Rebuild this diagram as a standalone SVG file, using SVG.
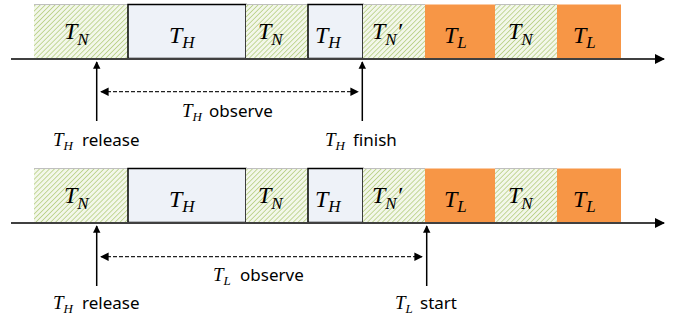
<svg xmlns="http://www.w3.org/2000/svg" width="681" height="322" viewBox="0 0 681 322">
<style>
.m{font-family:"Liberation Serif","DejaVu Serif",serif;font-style:italic;fill:#000}
.big{font-size:24px}
.sub{font-size:17px}
.lm{font-size:19px}
.ls{font-size:13px}
.lbl{font-family:"Noto Sans","Open Sans",sans-serif;font-size:17px;fill:#000}
.hn{fill:url(#hatch)}
.th{fill:#EEF2F8;stroke:#000;stroke-width:1.5}
.tl{fill:#F79646}
.edge{stroke:#BFBFBF;stroke-width:1}
.axis{stroke:#404040;stroke-width:2;fill:none}
.up{stroke:#000;stroke-width:1.5;fill:none;marker-end:url(#ah)}
.dash{stroke:#222;stroke-width:1.3;stroke-dasharray:4 2;fill:none;marker-start:url(#ahs);marker-end:url(#ahs)}
</style>
<defs>
<pattern id="hatch" patternUnits="userSpaceOnUse" width="3.5" height="3.5" patternTransform="rotate(45)">
<rect width="3.5" height="3.5" fill="#F3F7EA"/>
<line x1="0" y1="0" x2="0" y2="3.5" stroke="#A9C56B" stroke-width="1.3"/>
</pattern>
<marker id="ah" viewBox="0 0 10 10" refX="9" refY="5" markerWidth="5" markerHeight="5.5" orient="auto" markerUnits="strokeWidth">
<path d="M0,0 L10,5 L0,10 z" fill="#000"/>
</marker>
<marker id="ahs" viewBox="0 0 10 10" refX="9" refY="5" markerWidth="6.5" markerHeight="6.5" orient="auto-start-reverse" markerUnits="strokeWidth">
<path d="M0,0 L10,5 L0,10 z" fill="#000"/>
</marker>
<marker id="axh" viewBox="0 0 10 10" refX="9" refY="5" markerWidth="5" markerHeight="5" orient="auto" markerUnits="strokeWidth">
<path d="M0,0 L10,5 L0,10 z" fill="#000"/>
</marker>
</defs>

<!-- Row 1 -->
<g id="row1">
<g id="r1-tn1"><rect class="hn" x="34" y="4.5" width="94" height="54"/><line class="edge" x1="34" y1="4.5" x2="128" y2="4.5"/><text class="m big" x="64" y="39">T<tspan class="sub" dy="6">N</tspan></text></g>
<g id="r1-th1"><rect class="th" x="128" y="4.5" width="118" height="54"/><text class="m big" x="169" y="43">T<tspan class="sub" dy="5">H</tspan></text></g>
<g id="r1-tn2"><rect class="hn" x="246" y="4.5" width="62" height="54"/><line class="edge" x1="246" y1="4.5" x2="308" y2="4.5"/><text class="m big" x="258" y="39">T<tspan class="sub" dy="6">N</tspan></text></g>
<g id="r1-th2"><rect class="th" x="308" y="4.5" width="55" height="54"/><text class="m big" x="315" y="43">T<tspan class="sub" dy="5">H</tspan></text></g>
<g id="r1-tnp"><rect class="hn" x="363" y="4.5" width="62" height="54"/><line class="edge" x1="363" y1="4.5" x2="425" y2="4.5"/><text class="m big" x="372" y="39">T<tspan class="sub" dy="6">N</tspan><tspan dy="-6">′</tspan></text></g>
<g id="r1-tl1"><rect class="tl" x="425" y="4.5" width="70" height="54"/><text class="m big" x="444" y="43">T<tspan class="sub" dy="5">L</tspan></text></g>
<g id="r1-tn3"><rect class="hn" x="495" y="4.5" width="62" height="54"/><line class="edge" x1="495" y1="4.5" x2="557" y2="4.5"/><text class="m big" x="508" y="39">T<tspan class="sub" dy="6">N</tspan></text></g>
<g id="r1-tl2"><rect class="tl" x="557" y="4.5" width="64" height="54"/><text class="m big" x="573" y="43">T<tspan class="sub" dy="5">L</tspan></text></g>
</g>

<!-- Row 2 -->
<g id="row2">
<g id="r2-tn1"><rect class="hn" x="34" y="168.5" width="94" height="54"/><line class="edge" x1="34" y1="168.5" x2="128" y2="168.5"/><text class="m big" x="64" y="203">T<tspan class="sub" dy="6">N</tspan></text></g>
<g id="r2-th1"><rect class="th" x="128" y="168.5" width="118" height="54"/><text class="m big" x="169" y="207">T<tspan class="sub" dy="5">H</tspan></text></g>
<g id="r2-tn2"><rect class="hn" x="246" y="168.5" width="62" height="54"/><line class="edge" x1="246" y1="168.5" x2="308" y2="168.5"/><text class="m big" x="258" y="203">T<tspan class="sub" dy="6">N</tspan></text></g>
<g id="r2-th2"><rect class="th" x="308" y="168.5" width="55" height="54"/><text class="m big" x="315" y="207">T<tspan class="sub" dy="5">H</tspan></text></g>
<g id="r2-tnp"><rect class="hn" x="363" y="168.5" width="62" height="54"/><line class="edge" x1="363" y1="168.5" x2="425" y2="168.5"/><text class="m big" x="372" y="203">T<tspan class="sub" dy="6">N</tspan><tspan dy="-6">′</tspan></text></g>
<g id="r2-tl1"><rect class="tl" x="425" y="168.5" width="70" height="54"/><text class="m big" x="444" y="207">T<tspan class="sub" dy="5">L</tspan></text></g>
<g id="r2-tn3"><rect class="hn" x="495" y="168.5" width="62" height="54"/><line class="edge" x1="495" y1="168.5" x2="557" y2="168.5"/><text class="m big" x="508" y="203">T<tspan class="sub" dy="6">N</tspan></text></g>
<g id="r2-tl2"><rect class="tl" x="557" y="168.5" width="64" height="54"/><text class="m big" x="573" y="207">T<tspan class="sub" dy="5">L</tspan></text></g>
</g>

<g id="connectors">
<line class="axis" x1="11" y1="59" x2="664" y2="59" marker-end="url(#axh)"/>
<line class="axis" x1="11" y1="223" x2="664" y2="223" marker-end="url(#axh)"/>
<line class="up" x1="96.7" y1="121" x2="96.7" y2="62"/>
<line class="up" x1="362.3" y1="121" x2="362.3" y2="62"/>
<line class="up" x1="96.7" y1="286" x2="96.7" y2="226"/>
<line class="up" x1="426.7" y1="286" x2="426.7" y2="226"/>
<line class="dash" x1="101" y1="91.7" x2="358" y2="91.7"/>
<line class="dash" x1="101" y1="256.7" x2="422" y2="256.7"/>
</g>

<g id="labels">
<text x="53" y="146"><tspan class="m lm">T</tspan><tspan class="m ls" dy="4">H</tspan><tspan class="lbl" x="82" dy="-4">release</tspan></text>
<text x="182" y="116.5"><tspan class="m lm">T</tspan><tspan class="m ls" dy="4">H</tspan><tspan class="lbl" x="209" dy="-4">observe</tspan></text>
<text x="325" y="146"><tspan class="m lm">T</tspan><tspan class="m ls" dy="4">H</tspan><tspan class="lbl" x="353" dy="-4">finish</tspan></text>
<text x="53" y="309"><tspan class="m lm">T</tspan><tspan class="m ls" dy="4">H</tspan><tspan class="lbl" x="82" dy="-4">release</tspan></text>
<text x="213" y="280.5"><tspan class="m lm">T</tspan><tspan class="m ls" dy="4">L</tspan><tspan class="lbl" x="240" dy="-4">observe</tspan></text>
<text x="395" y="308.5"><tspan class="m lm">T</tspan><tspan class="m ls" dy="4">L</tspan><tspan class="lbl" x="420" dy="-4">start</tspan></text>
</g>
</svg>
